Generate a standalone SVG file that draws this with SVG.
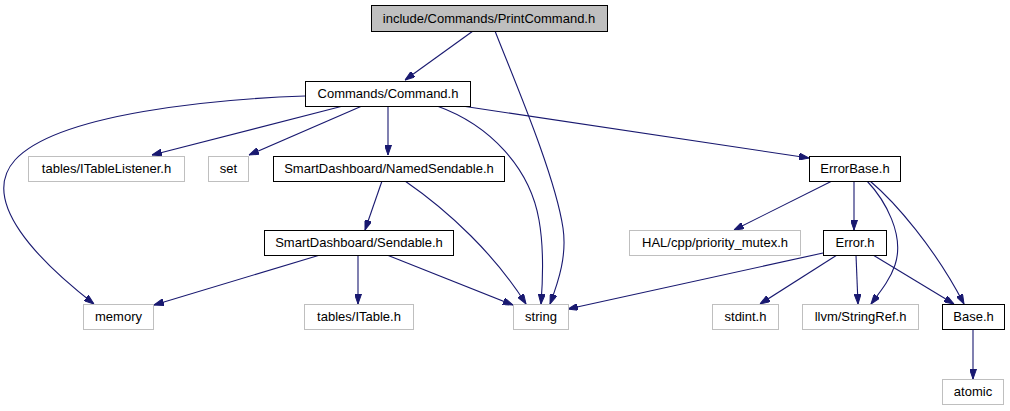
<svg xmlns="http://www.w3.org/2000/svg" width="1010" height="411" viewBox="0 0 1010 411">
<style>
text{font-family:"Liberation Sans",Arial,sans-serif;font-size:13px;fill:#000;text-anchor:middle}
.n rect{fill:#fff;stroke:#000;stroke-width:1}
.m rect{fill:#fff;stroke:#bfbfbf;stroke-width:1}
.r rect{fill:#bfbfbf;stroke:#000;stroke-width:1}
.e path{fill:none;stroke:#191970;stroke-width:1.1;marker-end:url(#a)}
</style>
<defs>
<marker id="a" viewBox="0 0 10 7" refX="10" refY="3.5" markerWidth="10" markerHeight="7" markerUnits="userSpaceOnUse" orient="auto">
<path d="M0,0 L10,3.5 L0,7 z" fill="#191970" stroke="#191970"/>
</marker>
</defs>
<rect width="1010" height="411" fill="#fff"/>
<g class="e" id="edges">
<path d="M473,31 L405,80"/>
<path d="M495,31 C515,82 555,175 563,228 C567,255 559,280 550,304"/>
<path d="M305,96 C218,99 58,113 15,160 C-22,201 40,262 94,304"/>
<path d="M343,106 L152,155"/>
<path d="M362,106 L249,155"/>
<path d="M388,106 L388,155"/>
<path d="M437,106 C490,125 530,168 539,220 C544,248 543,278 541,304"/>
<path d="M462,106 L809,158"/>
<path d="M382,181 L365,230"/>
<path d="M405,181 C450,212 495,255 526,304"/>
<path d="M320,255 L154,305"/>
<path d="M358,255 L358,304"/>
<path d="M387,255 L513,305"/>
<path d="M832,181 L734,230"/>
<path d="M854,181 L854,230"/>
<path d="M867,181 C885,200 905,235 895,265 C890,280 880,292 871,304"/>
<path d="M870,181 C895,202 935,248 964,304"/>
<path d="M823,253 L568,309"/>
<path d="M837,255 L760,304"/>
<path d="M856,255 L858,304"/>
<path d="M873,255 L954,304"/>
<path d="M973,329 L973,379"/>
</g>
<g class="r" id="n_printcommand"><rect x="371.5" y="5.5" width="236" height="26"/><text x="489" y="23">include/Commands/PrintCommand.h</text></g>
<g class="n" id="n_command"><rect x="305.5" y="81.5" width="165" height="25"/><text x="388" y="98">Commands/Command.h</text></g>
<g class="m" id="n_itablelistener"><rect x="28.5" y="156.5" width="156" height="25"/><text x="106.5" y="173">tables/ITableListener.h</text></g>
<g class="m" id="n_set"><rect x="208.5" y="156.5" width="40" height="25"/><text x="228.5" y="173">set</text></g>
<g class="n" id="n_namedsendable"><rect x="273.5" y="156.5" width="231" height="25"/><text x="389" y="173">SmartDashboard/NamedSendable.h</text></g>
<g class="n" id="n_errorbase"><rect x="809.5" y="156.5" width="91" height="25"/><text x="855" y="173">ErrorBase.h</text></g>
<g class="n" id="n_sendable"><rect x="264.5" y="230.5" width="189" height="25"/><text x="359" y="247">SmartDashboard/Sendable.h</text></g>
<g class="m" id="n_prioritymutex"><rect x="629.5" y="230.5" width="171" height="25"/><text x="715" y="247">HAL/cpp/priority_mutex.h</text></g>
<g class="n" id="n_error"><rect x="823.5" y="230.5" width="63" height="25"/><text x="855" y="247">Error.h</text></g>
<g class="m" id="n_memory"><rect x="83.5" y="304.5" width="70" height="25"/><text x="118.5" y="321">memory</text></g>
<g class="m" id="n_itable"><rect x="304.5" y="304.5" width="109" height="25"/><text x="359" y="321">tables/ITable.h</text></g>
<g class="m" id="n_string"><rect x="513.5" y="304.5" width="55" height="25"/><text x="541" y="321">string</text></g>
<g class="m" id="n_stdint"><rect x="712.5" y="304.5" width="66" height="25"/><text x="745.5" y="321">stdint.h</text></g>
<g class="m" id="n_stringref"><rect x="802.5" y="304.5" width="116" height="25"/><text x="860.5" y="321">llvm/StringRef.h</text></g>
<g class="n" id="n_base"><rect x="942.5" y="304.5" width="62" height="25"/><text x="973.5" y="321">Base.h</text></g>
<g class="m" id="n_atomic"><rect x="942.5" y="379.5" width="61" height="25"/><text x="973" y="396">atomic</text></g>
</svg>
